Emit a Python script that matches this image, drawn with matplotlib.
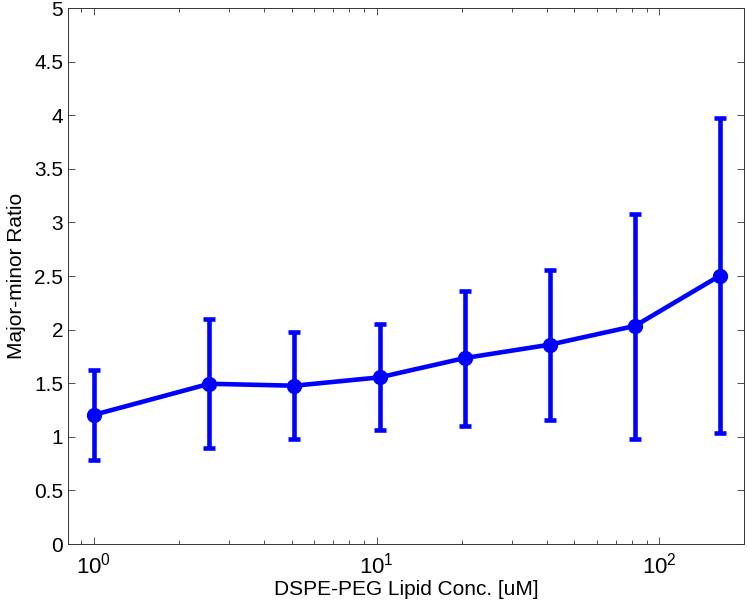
import matplotlib
matplotlib.use("Agg")
import matplotlib.pyplot as plt
from matplotlib.ticker import FuncFormatter, MultipleLocator, LogLocator

# data
conc = [1.0, 2.56, 5.12, 10.24, 20.48, 40.96, 81.92, 163.84]
ratio = [1.205, 1.495, 1.477, 1.555, 1.735, 1.86, 2.035, 2.505]
upper = [1.62, 2.10, 1.98, 2.05, 2.36, 2.56, 3.08, 3.97]
lower = [0.785, 0.90, 0.98, 1.065, 1.10, 1.16, 0.98, 1.04]

BLUE = "#0000ff"

plt.rcParams["font.family"] = ["Liberation Sans", "DejaVu Sans"]
plt.rcParams["mathtext.fontset"] = "custom"
plt.rcParams["mathtext.rm"] = "Liberation Sans"
plt.rcParams["mathtext.it"] = "Liberation Sans"

fig = plt.figure(figsize=(7.47, 6.09), dpi=100)
ax = fig.add_axes([0.091, 0.1067, 0.905, 0.880])

yerr = [[r - lo for r, lo in zip(ratio, lower)],
        [up - r for r, up in zip(ratio, upper)]]
ax.errorbar(conc, ratio, yerr=yerr, color=BLUE, lw=3.3, marker="o", ms=10,
            elinewidth=3.3, capsize=4.5, capthick=3.3)

ax.set_xscale("log")
ax.set_xlim(0.81, 199)
ax.set_ylim(0, 5)
ax.yaxis.set_major_locator(MultipleLocator(0.5))
ax.yaxis.set_major_formatter(FuncFormatter(lambda v, _: f"{v:g}"))
ax.xaxis.set_major_locator(LogLocator(base=10, numticks=10))
ax.xaxis.set_minor_locator(LogLocator(base=10, subs=range(2, 10), numticks=10))

ax.tick_params(which="both", direction="in", top=True, right=True, labelsize=15,
               width=0.6, color="#333333")
ax.tick_params(which="major", length=5)
ax.tick_params(which="minor", length=3)
ax.tick_params(axis="x", pad=6, labelsize=16)
for s in ax.spines.values():
    s.set_linewidth(0.7)
    s.set_color("#333333")

ax.set_xlabel("DSPE-PEG Lipid Conc. [uM]", fontsize=15, labelpad=1)
ax.set_ylabel("Major-minor Ratio", fontsize=15, labelpad=6)

fig.savefig("out.png", dpi=100)
